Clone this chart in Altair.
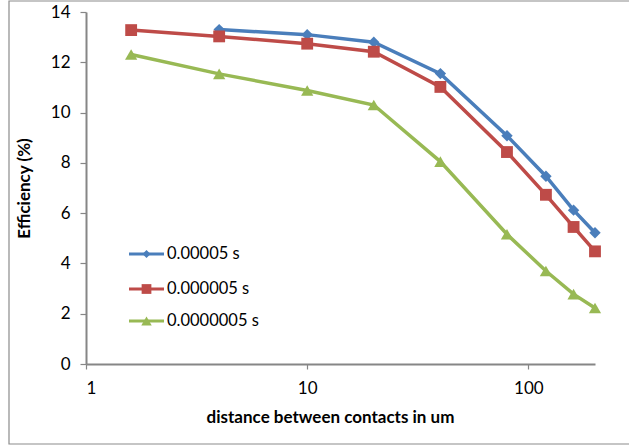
import altair as alt
import pandas as pd

series_names = ["0.00005 s", "0.000005 s", "0.0000005 s"]
x_blue = [4, 10, 20, 40, 80, 120, 160, 200]
y_blue = [13.3, 13.1, 12.8, 11.55, 9.08, 7.47, 6.12, 5.22]
x_other = [1.6, 4, 10, 20, 40, 80, 120, 160, 200]
y_red = [13.28, 13.03, 12.74, 12.42, 11.02, 8.43, 6.73, 5.45, 4.48]
y_green = [12.31, 11.54, 10.88, 10.3, 8.05, 5.16, 3.7, 2.78, 2.23]
colors = ["#4A7EBB", "#BE4B48", "#98B954"]
shapes = ["diamond", "square", "triangle-up"]
sizes = [130, 150, 170]
x_ticks = [1, 10, 100]
y_ticks = [0, 2, 4, 6, 8, 10, 12, 14]

rows = []
for xs, ys, name in [(x_blue, y_blue, series_names[0]),
                     (x_other, y_red, series_names[1]),
                     (x_other, y_green, series_names[2])]:
    for xv, yv in zip(xs, ys):
        rows.append({"x": xv, "y": yv, "series": name})
df = pd.DataFrame(rows)

FONT = "Lato"

x_enc = alt.X("x:Q", scale=alt.Scale(type="log", domain=[1, 200], nice=False),
              axis=alt.Axis(values=x_ticks, title="distance between contacts in um",
                            format="d", grid=False, tickSize=5, labelPadding=11,
                            titlePadding=13, titleX=244))
y_enc = alt.Y("y:Q", scale=alt.Scale(domain=[0, 14], nice=False),
              axis=alt.Axis(values=y_ticks, title="Efficiency (%)", grid=False,
                            tickSize=6, labelPadding=10, titlePadding=17))
color_enc = alt.Color("series:N", scale=alt.Scale(domain=series_names, range=colors), legend=None)

base = alt.Chart(df)
lines = base.mark_line(strokeWidth=3.5).encode(x=x_enc, y=y_enc, color=color_enc, detail="series:N")
points = base.mark_point(filled=True, opacity=1).encode(
    x="x:Q", y="y:Q", color=color_enc,
    shape=alt.Shape("series:N", scale=alt.Scale(domain=series_names, range=shapes), legend=None),
    size=alt.Size("series:N", scale=alt.Scale(domain=series_names, range=sizes), legend=None),
)

layers = [lines, points]

legend_rows_y = [242, 277, 309]
legend_sizes = [64, 95, 110]
for name, col, shp, ly, ls in zip(series_names, colors, shapes, legend_rows_y, legend_sizes):
    ld = alt.Chart(pd.DataFrame({"series": [name]}))
    layers.append(ld.mark_rule(strokeWidth=3, color=col).encode(
        x=alt.value(43), x2=alt.value(78), y=alt.value(ly)))
    layers.append(ld.mark_point(filled=True, opacity=1, color=col, shape=shp, size=ls).encode(
        x=alt.value(60.5), y=alt.value(ly)))
    layers.append(ld.mark_text(align="left", baseline="middle", font=FONT, fontSize=16.5,
                               color="#000000").encode(
        x=alt.value(81), y=alt.value(ly), text="series:N"))

border = alt.Chart(pd.DataFrame({"a": [0]})).mark_rect(
    filled=False, stroke="#8C8C8C", strokeWidth=1.2).encode(
    x=alt.value(-77), x2=alt.value(560), y=alt.value(-11), y2=alt.value(432))
layers.append(border)

chart = alt.layer(*layers).properties(
    width=509, height=352,
    autosize=alt.AutoSizeParams(type="none"),
    padding={"left": 86, "top": 12, "right": 34, "bottom": 82},
    background="white",
).configure_view(strokeWidth=0).configure_axis(
    domainColor="#868686", domainWidth=2, tickColor="#868686", tickWidth=1.2,
    labelFont=FONT, labelFontSize=17, labelColor="#000000",
    titleFont=FONT, titleFontSize=17, titleFontWeight="bold", titleColor="#000000",
)

chart.save("out.html", embed_options={"renderer": "svg", "actions": False})
